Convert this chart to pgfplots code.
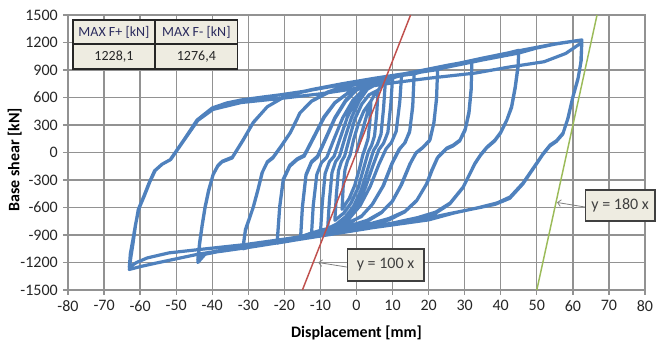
\documentclass[border=0pt]{standalone}
\usepackage{fontspec}
\setmainfont{Carlito}
\usepackage{pgfplots}
\pgfplotsset{compat=1.18}
\usetikzlibrary{arrows.meta}
\definecolor{blueline}{HTML}{4F81BD}
\definecolor{redline}{HTML}{C0504D}
\definecolor{greenline}{HTML}{9BBB59}
\definecolor{tanbox}{HTML}{EEECE1}
\definecolor{gridgray}{HTML}{929292}
\definecolor{hdrtext}{HTML}{2B2B5E}
\begin{document}
\begin{tikzpicture}
\useasboundingbox (-51pt,-39.75pt) rectangle (444pt,217.5pt);
\begin{axis}[
  at={(0,0)}, anchor=south west,
  scale only axis, width=432.75pt, height=206.25pt,
  xmin=-80, xmax=80, ymin=-1500, ymax=1500,
  xtick={-80,-70,...,80}, ytick={-1500,-1200,...,1500},
  grid=major, major grid style={gridgray, line width=1pt},
  axis line style={gridgray, line width=1pt},
  tick style={gridgray, line width=1pt},
  tick align=outside, major tick length=3.5pt,
  xtick pos=bottom, ytick pos=left,
  clip=false,
  font=\fontsize{12}{14}\selectfont,
  /pgf/number format/assume math mode=true,
  /pgf/number format/1000 sep={},
  ticklabel style={text=black!85},
  xticklabel style={anchor=north, inner sep=0pt, yshift=-4pt},
  yticklabel style={anchor=east, inner sep=0pt, xshift=-4pt},
  xlabel={\bfseries Displacement [mm]},
  ylabel={\bfseries Base shear [kN]},
  xlabel style={at={(axis description cs:0.5,-0.1745)}, anchor=base, inner sep=0pt},
  ylabel style={at={(axis description cs:-0.0841,0.473)}, anchor=base, inner sep=0pt},
]
\addplot[blueline, line width=2.4pt, line join=round, line cap=round] coordinates {
(0,0)(1,150)(2,290)(3,430)(4,560)
(3.7,330)(3.2,150)(2.5,60)(1.8,-20)(0.8,-180)(-0.5,-360)(-2,-500)(-4,-620)
(-3.7,-380)(-3.2,-190)(-2.5,-90)(-1.8,-30)(-0.8,140)(0.5,310)(2,450)(4,560)
(5,630)(6,680)
(5.6,420)(5,180)(4.2,80)(3.3,10)(2,-170)(0.5,-380)(-1.5,-550)(-3.5,-660)(-6,-740)
(-5.6,-470)(-5,-200)(-4.2,-100)(-3.3,-40)(-2,150)(-0.5,360)(1.5,530)(3.5,630)(6,680)
(7,730)(8,770)
(7.5,480)(6.8,200)(5.8,90)(4.7,20)(3.2,-170)(1.4,-400)(-0.7,-580)(-3,-700)(-5.5,-780)(-8,-830)
(-7.5,-520)(-6.8,-220)(-5.8,-100)(-4.7,-40)(-3.2,160)(-1.4,380)(0.7,560)(3,690)(5.5,745)(8,770)
(9,790)(10,810)
(9.5,520)(8.7,220)(7.5,100)(6.2,30)(4.5,-150)(2.5,-380)(0,-580)(-2.5,-710)(-5,-790)(-7.5,-840)(-10,-880)
(-9.5,-560)(-8.7,-230)(-7.5,-100)(-6.2,-40)(-4.5,160)(-2.5,390)(0,580)(2.5,700)(5,770)(7.5,800)(10,810)
(11,825)(12.5,840)
(12,550)(11,230)(9.7,110)(8.2,40)(6.2,-130)(3.8,-370)(1,-580)(-2,-720)(-5,-800)(-9,-860)(-12.5,-910)
(-12,-580)(-11,-240)(-9.7,-110)(-8.2,-50)(-6.2,150)(-3.8,380)(-1,570)(2,690)(5,760)(9,810)(12.5,840)
(14,855)(16,870)
(15.6,520)(14.8,240)(13.5,110)(12,40)(10,-110)(7.5,-360)(4.5,-560)(1.5,-690)(-2,-770)(-6,-820)(-10,-860)(-13,-895)(-15.5,-935)
(-15,-600)(-14,-250)(-12.5,-110)(-10.8,-50)(-8.5,150)(-6,370)(-3,560)(0,680)(4,760)(8,810)(12,845)(16,865)
(15.6,500)(14.7,220)(13.3,100)(11.8,35)(9.8,-120)(7.3,-370)(4.3,-570)(1.3,-700)(-2,-760)(-6,-810)(-10,-850)(-13,-885)(-15.5,-920)
(-15,-590)(-14,-240)(-12.5,-100)(-10.8,-40)(-8.5,160)(-6,380)(-3,570)(0,690)(4,760)(8,805)(12,838)(16,858)
(19,890)(22.5,920)
(22.2,600)(21.5,330)(20.4,140)(18.5,60)(16.6,0)(15,-114)(12.5,-350)(10,-530)(7,-650)(3,-740)(-2,-800)(-7,-850)(-12,-890)(-17,-930)(-22,-990)
(-21.3,-600)(-20.3,-300)(-18.5,-150)(-16.5,-80)(-14.5,-40)(-12,150)(-9,380)(-6,540)(-2,660)(3,760)(8,815)(13,850)(18,885)(22.5,915)
(22.2,580)(21.4,310)(20.2,125)(18.3,50)(16.4,-10)(14.8,-125)(12.3,-360)(9.8,-540)(6.8,-660)(3,-750)(-2,-810)(-7,-860)(-12,-900)(-17,-940)(-22,-975)
(-21.3,-590)(-20.3,-290)(-18.5,-140)(-16.5,-70)(-14.5,-30)(-12,160)(-9,390)(-6,545)(-2,660)(3,755)(8,808)(13,843)(18,878)(22.5,905)
(27,955)(32,1000)
(31.8,700)(31.2,450)(30.2,260)(28.7,136)(26.8,80)(25.1,50)(22.6,-49)(21,-190)(19.6,-332)(16.8,-518)(13.5,-640)(9,-720)(4,-775)(-2,-830)(-8,-880)(-14,-920)(-20,-960)(-26,-1000)(-31.5,-1050)
(-30.8,-850)(-28.7,-605)(-27.3,-400)(-26.2,-223)(-24.8,-110)(-23.2,-60)(-21,60)(-18.4,213)(-15.7,431)(-12.5,560)(-8,660)(-2,740)(5,800)(12,850)(18,895)(25,950)(32,1000)
(31.8,680)(31.2,430)(30.1,240)(28.6,125)(26.7,70)(25,40)(22.4,-60)(20.8,-200)(19.4,-345)(16.6,-530)(13.3,-650)(9,-735)(4,-790)(-2,-845)(-8,-895)(-14,-935)(-20,-975)(-26,-1010)(-31.5,-1040)
(-30.8,-840)(-28.6,-595)(-27.2,-390)(-26.1,-215)(-24.7,-100)(-23.1,-50)(-20.9,70)(-18.3,220)(-15.6,435)(-12.4,560)(-8,650)(-2,725)(5,785)(12,835)(18,880)(25,935)(32,985)
(38,1045)(45,1115)
(44.8,950)(44,715)(43,500)(41.7,355)(40,220)(38.4,136)(36.2,60)(34.5,-20)(32.9,-114)(31.2,-250)(29.6,-376)(26,-550)(22,-650)(17,-710)(10,-770)(3,-820)(-5,-870)(-13,-920)(-21,-970)(-29,-1020)(-37,-1070)(-42,-1110)(-44,-1200)
(-43.5,-1000)(-42.8,-800)(-42,-605)(-41,-420)(-39.8,-245)(-38.5,-150)(-37.3,-103)(-34.5,-60)(-31.5,130)(-28.7,322)(-24.8,497)(-19.3,627)(-12,690)(-4,750)(5,810)(15,870)(25,945)(35,1030)(45,1110)
(44.8,930)(44,700)(43,490)(41.6,345)(39.9,210)(38.3,125)(36.1,50)(34.4,-30)(32.8,-125)(31.1,-260)(29.5,-385)(25.9,-560)(22,-660)(17,-720)(10,-780)(3,-830)(-5,-880)(-13,-930)(-21,-980)(-29,-1030)(-37,-1075)(-42,-1100)(-44,-1170)
(-43.5,-980)(-42.8,-790)(-42,-595)(-41,-410)(-39.7,-235)(-38.4,-140)(-37.2,-95)(-34.4,-50)(-31.4,140)(-28.6,330)(-24.7,500)(-19.2,625)(-12,685)(-4,740)(5,800)(15,860)(25,930)(35,1010)(45,1085)
(50,1140)(55,1182)(62.5,1228)
(62.3,1000)(61.5,820)(60,606)(58.7,380)(57.3,213)(55.5,130)(53.7,82)(51.8,-10)(50,-114)(46.2,-332)(42.6,-485)(39,-550)(34,-600)(27,-660)(20,-735)(10,-790)(0,-845)(-10,-905)(-20,-960)(-31,-1030)(-44,-1110)(-50,-1160)(-56,-1210)(-60,-1245)(-63,-1276)
(-62.6,-1150)(-62,-1000)(-61.3,-800)(-60.5,-620)(-59,-480)(-57.5,-330)(-56,-200)(-54,-130)(-51.7,-81)(-48,130)(-44.2,355)(-40,486)(-36,540)(-32,573)(-26,605)(-21,630)(-15,665)(-7,720)(0,770)(8,825)(16,875)(24,935)(32,1000)(40,1070)(47,1125)(55,1185)(62.5,1228)
(62.2,980)(61.4,800)(59.9,590)(58.6,370)(57.2,200)(55.4,120)(53.6,70)(51.7,-20)(49.9,-125)(46.1,-345)(42.5,-500)(38.5,-565)(33,-610)(26,-665)(20,-715)(10,-775)(0,-830)(-10,-885)(-20,-945)(-31,-1005)(-44,-1060)(-52,-1095)(-58,-1150)(-61,-1200)(-63,-1250)
(-62.7,-1100)(-62,-950)(-61.2,-770)(-60.3,-610)(-58.8,-470)(-57.3,-320)(-55.8,-195)(-53.8,-125)(-51.5,-75)(-47.8,135)(-44,350)(-39.8,470)(-32,545)(-21,590)(-10,640)(0,700)(10,760)(20,810)(33,867)(42,930)(52,990)(58,1080)(62.5,1200)
};
\addplot[redline, line width=1.1pt] coordinates {(-15,-1500)(15,1500)};
\addplot[greenline, line width=1.1pt] coordinates {(50,-1500)(66.7,1500)};
% table
\draw[black!85, line width=0.9pt, fill=tanbox] (axis cs:-78.6,911) rectangle (axis cs:-32.9,1445);
\draw[black!85, line width=0.9pt] (axis cs:-78.6,1184) -- (axis cs:-32.9,1184);
\draw[black!85, line width=0.9pt] (axis cs:-55.9,911) -- (axis cs:-55.9,1445);
\node[font=\fontsize{10.5}{12}\selectfont, text=hdrtext] at (axis cs:-67.25,1314) {MAX F+ [kN]};
\node[font=\fontsize{10.5}{12}\selectfont, text=hdrtext] at (axis cs:-44.4,1314) {MAX F- [kN]};
\node[font=\fontsize{10.5}{12}\selectfont, text=black!85] at (axis cs:-67.25,1047) {1228,1};
\node[font=\fontsize{10.5}{12}\selectfont, text=black!85] at (axis cs:-44.4,1047) {1276,4};
% callouts
\draw[gray, line width=0.6pt, {Straight Barb[length=2.5pt,width=5pt]}-] (axis cs:-10.6,-1200) -- (axis cs:-2.6,-1250);
\draw[black!75, line width=0.9pt, fill=tanbox] (axis cs:-2.6,-1053) rectangle (axis cs:18.7,-1402);
\node[font=\fontsize{12}{14}\selectfont, text=black!75] at (axis cs:8.05,-1228) {y = 100 x};
\draw[gray, line width=0.6pt, {Straight Barb[length=2.5pt,width=5pt]}-] (axis cs:55.6,-545) -- (axis cs:63.4,-595);
\draw[black!75, line width=0.9pt, fill=tanbox] (axis cs:63.4,-409) rectangle (axis cs:82.8,-747);
\node[font=\fontsize{12}{14}\selectfont, text=black!75] at (axis cs:73.1,-578) {y = 180 x};
\end{axis}
\end{tikzpicture}
\end{document}
